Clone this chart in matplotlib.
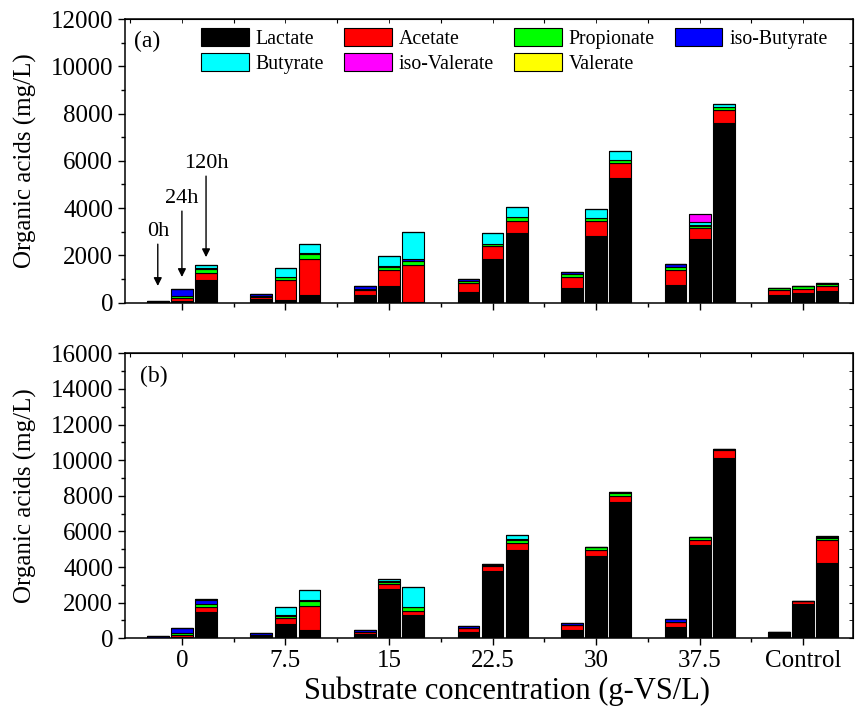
import numpy as np
import matplotlib
matplotlib.use('Agg')
import matplotlib.pyplot as plt
from matplotlib.ticker import MultipleLocator, FixedLocator

plt.rcParams['font.family'] = ['Liberation Serif', 'DejaVu Serif']

# groups of substrate concentration, each with 0h / 24h / 120h bars
groups = ['0', '7.5', '15', '22.5', '30', '37.5', 'Control']
times = ['0h', '24h', '120h']

acids = ['Lactate', 'Acetate', 'Propionate', 'iso-Butyrate',
         'Butyrate', 'iso-Valerate', 'Valerate']
acid_colors = ['#000000', '#ff0000', '#00ff00', '#0000ff',
               '#00ffff', '#ff00ff', '#ffff00']

# panel (a), values in mg/L, ordered group by group (0h, 24h, 120h)
lactate_a = [0, 50, 960, 140, 110, 320, 310, 700, 20, 465, 1850, 2960,
             630, 2830, 5290, 760, 2710, 7600, 310, 400, 470]
acetate_a = [10, 150, 290, 90, 860, 1530, 200, 680, 1580, 360, 530, 500,
             470, 620, 610, 620, 440, 550, 200, 180, 210]
propionate_a = [0, 80, 150, 40, 90, 200, 80, 120, 150, 80, 80, 140,
                100, 110, 120, 140, 100, 110, 100, 100, 110]
isobutyrate_a = [75, 280, 60, 100, 40, 40, 110, 40, 100, 100, 20, 30,
                 110, 20, 30, 110, 30, 20, 0, 20, 30]
butyrate_a = [0, 0, 110, 0, 360, 400, 0, 430, 1120, 0, 450, 430,
              0, 360, 380, 0, 110, 110, 0, 0, 0]
isovalerate_a = [0, 0, 0, 0, 0, 0, 0, 0, 30, 0, 0, 0,
                 0, 0, 0, 0, 360, 0, 0, 0, 0]
valerate_a = [0, 0, 20, 0, 0, 0, 0, 0, 0, 0, 0, 0,
              0, 0, 0, 0, 0, 0, 0, 0, 0]

# panel (b)
lactate_b = [10, 75, 1480, 110, 820, 490, 260, 2770, 1330, 375, 3760, 4975,
             490, 4640, 7630, 620, 5220, 10150, 280, 1950, 4230]
acetate_b = [20, 110, 290, 70, 320, 1310, 70, 280, 220, 190, 320, 380,
             240, 340, 380, 280, 290, 420, 60, 130, 1270]
propionate_b = [0, 110, 180, 20, 100, 320, 20, 110, 180, 20, 60, 190,
                20, 140, 150, 30, 170, 30, 40, 30, 140]
isobutyrate_b = [80, 260, 200, 100, 80, 40, 140, 30, 20, 130, 30, 50,
                 130, 0, 30, 160, 0, 0, 0, 0, 30]
butyrate_b = [0, 0, 60, 0, 430, 560, 0, 140, 1150, 0, 0, 200,
              0, 0, 0, 0, 0, 0, 0, 0, 50]
isovalerate_b = [0] * 21
valerate_b = [0] * 21

panel_a = [lactate_a, acetate_a, propionate_a, isobutyrate_a,
           butyrate_a, isovalerate_a, valerate_a]
panel_b = [lactate_b, acetate_b, propionate_b, isobutyrate_b,
           butyrate_b, isovalerate_b, valerate_b]

bar_w = 0.21
step = 0.233


def bar_x():
    centers = np.arange(len(groups))
    offs = (np.arange(len(times)) - 1) * step
    return (centers[:, None] + offs[None, :]).ravel()


def style_axes(ax, ymax, ymajor):
    ax.set_xlim(-0.55, len(groups) - 0.52)
    ax.set_ylim(0, ymax)
    ax.yaxis.set_major_locator(MultipleLocator(ymajor))
    ax.yaxis.set_minor_locator(MultipleLocator(ymajor / 2))
    ax.set_xticks(np.arange(len(groups)))
    ax.xaxis.set_minor_locator(FixedLocator(np.arange(len(groups)) + 0.5))
    ax.tick_params(which='both', direction='out', labelsize=18, width=1)
    ax.tick_params(which='major', length=5)
    ax.tick_params(which='minor', length=3)
    for s in ax.spines.values():
        s.set_linewidth(1.1)
    top = ax.secondary_xaxis('top')
    top.set_xticks(np.arange(len(groups)) - 0.5)
    top.xaxis.set_minor_locator(FixedLocator(np.arange(len(groups))))
    top.tick_params(which='both', direction='in', labeltop=False, length=3)
    right = ax.secondary_yaxis('right')
    right.yaxis.set_major_locator(MultipleLocator(ymajor))
    right.yaxis.set_minor_locator(MultipleLocator(ymajor / 2))
    right.tick_params(which='both', direction='in', labelright=False, length=3)
    ax.set_ylabel('Organic acids (mg/L)', fontsize=18, labelpad=10)


def draw_stack(ax, series):
    x = bar_x()
    bottom = np.zeros(len(x))
    for name, vals, c in zip(acids, series, acid_colors):
        vals = np.array(vals, dtype=float)
        ax.bar(x, vals, bar_w, bottom=bottom, color=c, edgecolor='black',
               linewidth=0.8, label=name)
        bottom += vals
    return bottom


fig = plt.figure(figsize=(8.6, 7.12), dpi=100)
ax_a = fig.add_axes([0.1453, 0.5751, 0.8465, 0.3982])
ax_b = fig.add_axes([0.1453, 0.1035, 0.8465, 0.4003])

draw_stack(ax_a, panel_a)
draw_stack(ax_b, panel_b)

style_axes(ax_a, 12000, 2000)
style_axes(ax_b, 16000, 2000)
ax_a.set_xticklabels([])
ax_b.set_xticklabels(groups)
ax_b.set_xlabel('Substrate concentration (g-VS/L)', fontsize=22)
ax_b.xaxis.set_label_coords(0.525, -0.135)

ax_a.text(0.012, 0.92, '(a)', transform=ax_a.transAxes, fontsize=17,
          va='center', ha='left')
ax_b.text(0.02, 0.92, '(b)', transform=ax_b.transAxes, fontsize=17,
          va='center', ha='left')

# time arrows over the first group in panel (a)
arrow_tip = [700, 1080, 1920]
arrow_tail = [2470, 3870, 5350]
for xi, lbl, tip, tail in zip(bar_x()[:3], times, arrow_tip, arrow_tail):
    ax_a.annotate('', xy=(xi, tip), xytext=(xi, tail),
                  arrowprops=dict(arrowstyle='-|>', color='black', lw=1,
                                  mutation_scale=12, shrinkA=0, shrinkB=0))
    ax_a.text(xi, tail + 150, lbl, ha='center', va='bottom', fontsize=16)

# legend filled row by row (matplotlib fills columns first)
handles, labels = ax_a.get_legend_handles_labels()
order = [0, 4, 1, 5, 2, 6, 3]
ax_a.legend([handles[i] for i in order], [labels[i] for i in order],
            ncol=4, loc='upper left', bbox_to_anchor=(0.083, 1.025),
            frameon=False, fontsize=14.3, handlelength=2.4, handleheight=1.05,
            handletextpad=0.35, columnspacing=1.0, labelspacing=0.2,
            borderpad=0.3)

fig.savefig('out.png', dpi=100)
